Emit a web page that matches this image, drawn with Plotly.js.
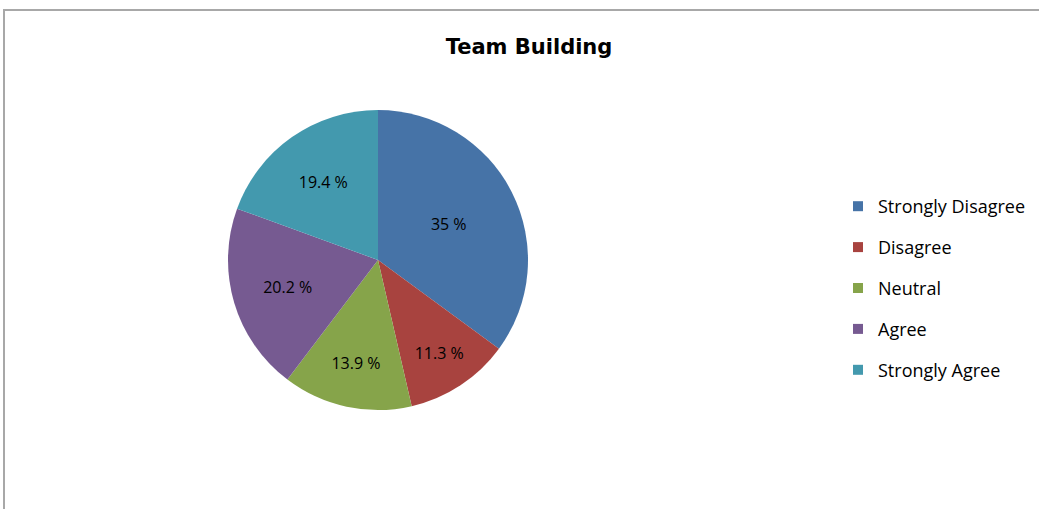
<!DOCTYPE html>
<html>
<head>
<meta charset="utf-8">
<script src="https://cdn.plot.ly/plotly-3.0.1.min.js"></script>
<style>
  html, body { margin: 0; padding: 0; background: #fff; }
  #wrap { position: relative; width: 1039px; height: 509px; overflow: hidden; }
  #chart { position: absolute; left: 0; top: 0; width: 1039px; height: 509px; }
  #frame { position: absolute; left: 3px; top: 9px; width: 1100px; height: 600px;
           border-left: 2px solid #a8a8a8; border-top: 2px solid #a8a8a8;
           pointer-events: none; box-sizing: border-box; }
</style>
</head>
<body>
<div id="wrap">
  <div id="chart"></div>
  <div id="frame"></div>
</div>
<script>
const categories = ["Strongly Disagree", "Disagree", "Neutral", "Agree", "Strongly Agree"];
const percentages = [35, 11.3, 13.9, 20.2, 19.4];
const sliceColors = ["#4673A7", "#A8433F", "#86A44A", "#765A91", "#4399AE"];

const W = 1039, H = 509;
const px = x => x / W;
const py = y => 1 - y / H;

const pie = {
  type: "pie",
  labels: categories,
  values: percentages,
  text: percentages.map(v => v + " %"),
  textinfo: "text",
  textposition: "inside",
  insidetextorientation: "horizontal",
  textfont: { family: "Open Sans, sans-serif", size: 16, color: "#000" },
  sort: false,
  direction: "clockwise",
  rotation: 0,
  marker: { colors: sliceColors, line: { color: "#ffffff", width: 0 } },
  domain: { x: [px(228), px(528)], y: [py(412), py(108)] },
  showlegend: false,
  hoverinfo: "label+text"
};

const legendTraces = categories.map((c, i) => ({
  type: "scatter",
  mode: "markers",
  x: [null], y: [null],
  name: c,
  legendgroup: "g" + i,
  marker: { symbol: "square", size: 10, color: sliceColors[i] },
  showlegend: true,
  hoverinfo: "skip"
}));

const layout = {
  width: W, height: H,
  margin: { l: 0, r: 0, t: 0, b: 0 },
  paper_bgcolor: "#ffffff",
  plot_bgcolor: "#ffffff",
  title: {
    text: "<b>Team Building</b>",
    font: { family: "DejaVu Sans, Verdana, sans-serif", size: 21, color: "#000" },
    x: px(529), xanchor: "center",
    y: py(47), yanchor: "middle"
  },
  xaxis: { visible: false },
  yaxis: { visible: false },
  showlegend: true,
  legend: {
    x: px(838), xanchor: "left",
    y: py(188), yanchor: "top",
    font: { family: "Open Sans, sans-serif", size: 18, color: "#000" },
    tracegroupgap: 14.5,
    itemwidth: 30,
    bgcolor: "rgba(0,0,0,0)"
  }
};

Plotly.newPlot("chart", [pie].concat(legendTraces), layout, { displayModeBar: false, staticPlot: true });
</script>
</body>
</html>
